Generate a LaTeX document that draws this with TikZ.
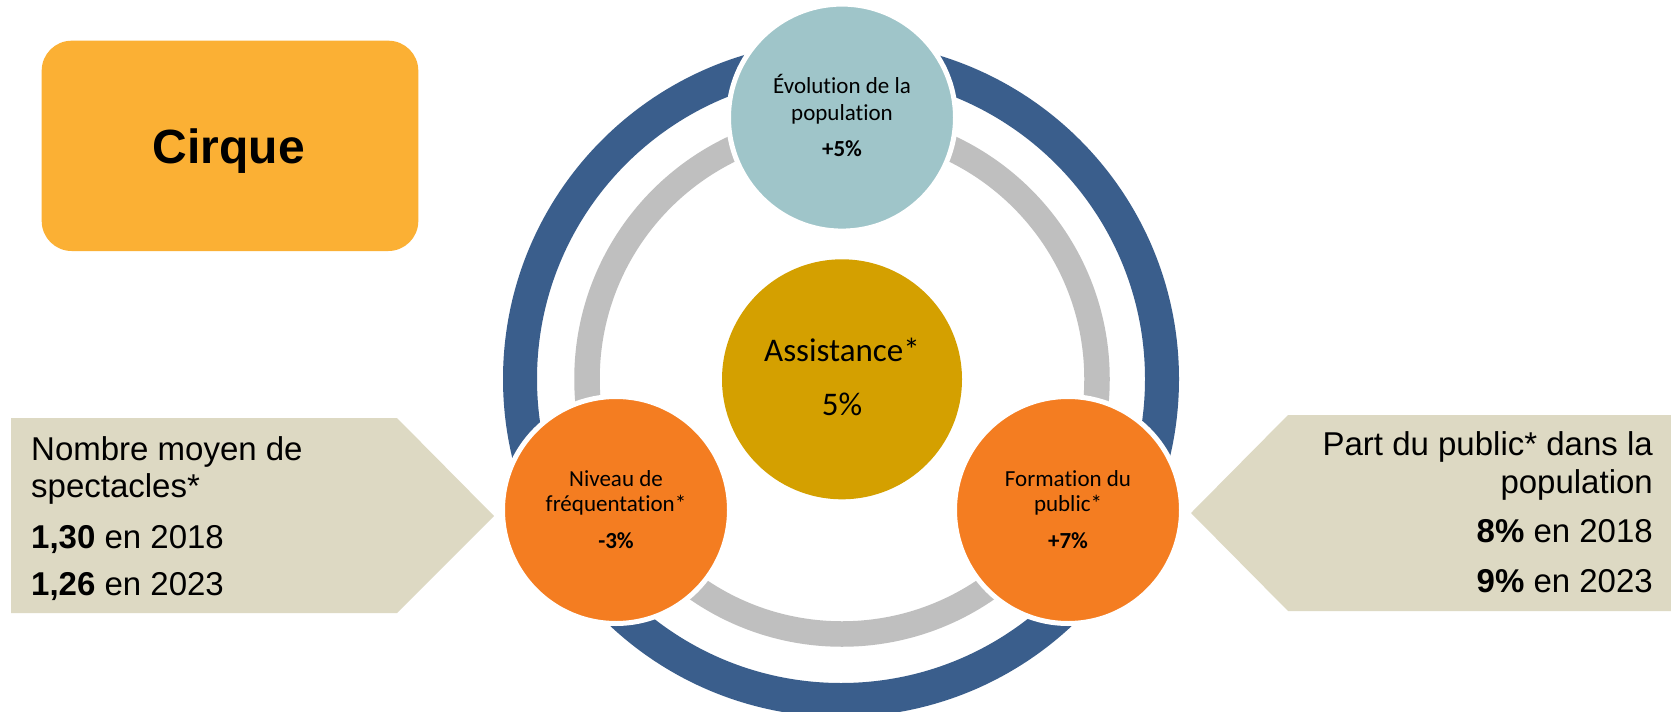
\documentclass[tikz,border=0pt]{standalone}
\usepackage{fontspec}
\setmainfont{Liberation Sans}
\newfontfamily\carl[RawFeature={-liga,-clig,-dlig}]{Carlito}
\definecolor{cirqueorange}{HTML}{FBB034}
\definecolor{beige}{HTML}{DDD9C3}
\definecolor{topteal}{HTML}{9FC5C9}
\definecolor{orangec}{HTML}{F47D21}
\definecolor{goldc}{HTML}{D4A000}
\definecolor{ringblue}{HTML}{3A5E8C}
\definecolor{ringgray}{HTML}{BFBFBF}
\tikzset{
  smallcirc/.style={circle, minimum size=227pt, inner sep=0pt, draw=white, line width=5pt},
  circtxt/.style={anchor=base, inner sep=0pt, font=\carl\fontsize{23}{27}\selectfont},
  bigtxt/.style={anchor=base, inner sep=0pt, font=\carl\fontsize{33}{38}\selectfont},
  lefttxt/.style={anchor=base west, inner sep=0pt, font=\fontsize{33}{38}\selectfont},
  righttxt/.style={anchor=base east, inner sep=0pt, font=\fontsize{33}{38}\selectfont},
}
\begin{document}
\begin{tikzpicture}[x=1pt,y=-1pt]
\useasboundingbox (0,0) rectangle (1671,712);
\fill[white] (0,0) rectangle (1671,712);
% rings
\draw[ringblue, line width=34pt] (841,379) circle[radius=321pt];
\draw[ringgray, line width=25.5pt] (842,379) circle[radius=255pt];
% side arrows
\fill[beige] (11,418) -- (397,418) -- (494,516) -- (397,613) -- (11,613) -- cycle;
\fill[beige] (1191,513) -- (1288,415) -- (1671,415) -- (1671,611) -- (1288,611) -- cycle;
% title box
\node[rectangle, rounded corners=30pt, minimum width=376.6pt, minimum height=210.3pt, inner sep=0pt, fill=cirqueorange] (cirque) at (230,145.85) {};
\node[anchor=base, inner sep=0pt, font=\bfseries\fontsize{48}{52}\selectfont] (cirquetxt) at (229,163.3) {Cirque};
% circles
\node[circle, minimum size=240pt, inner sep=0pt, fill=goldc] (center) at (842,379.3) {};
\node[smallcirc, fill=topteal] (top) at (842,117.6) {};
\node[smallcirc, fill=orangec] (left) at (616,510) {};
\node[smallcirc, fill=orangec] (right) at (1068,510) {};
% circle texts
\node[bigtxt] (c1) at (842,361.7) {Assistance*};
\node[bigtxt] (c2) at (842,415) {5\%};
\node[circtxt] (t1) at (842,93.5) {Évolution de la};
\node[circtxt] (t2) at (842,120.5) {population};
\node[circtxt, font=\carl\bfseries\fontsize{23}{27}\selectfont] (t3) at (842,156) {+5\%};
\node[circtxt] (l1) at (616,486) {Niveau de};
\node[circtxt] (l2) at (616,511.7) {fréquentation*};
\node[circtxt, font=\carl\bfseries\fontsize{23}{27}\selectfont] (l3) at (616,548) {-3\%};
\node[circtxt] (r1) at (1068,486) {Formation du};
\node[circtxt] (r2) at (1068,511.7) {public*};
\node[circtxt, font=\carl\bfseries\fontsize{23}{27}\selectfont] (r3) at (1068,548) {+7\%};
% left arrow text
\node[lefttxt] (a1) at (31,460) {Nombre moyen de};
\node[lefttxt] (a2) at (31,497) {spectacles*};
\node[lefttxt] (a3) at (31,548) {\textbf{1,30} en 2018};
\node[lefttxt] (a4) at (31,595) {\textbf{1,26} en 2023};
% right arrow text
\node[righttxt] (b1) at (1653,455) {Part du public* dans la};
\node[righttxt] (b2) at (1653,493) {population};
\node[righttxt] (b3) at (1653,542) {\textbf{8\%} en 2018};
\node[righttxt] (b4) at (1653,592) {\textbf{9\%} en 2023};
\end{tikzpicture}
\end{document}
